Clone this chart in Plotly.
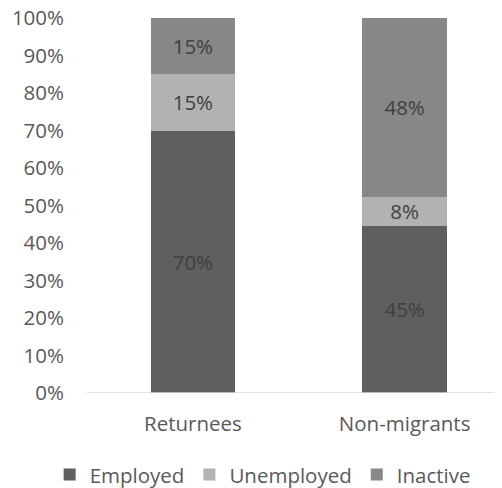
import plotly.graph_objects as go

categories = ["Returnees", "Non-migrants"]
employed = [70.0, 44.6]
unemployed = [15.2, 7.8]
inactive = [14.8, 47.6]
tick_vals = [0, 10, 20, 30, 40, 50, 60, 70, 80, 90, 100]
tick_text = [f"{v}%" for v in tick_vals]

series = [
    ("Employed", employed, "#5f5f5f"),
    ("Unemployed", unemployed, "#b2b2b2"),
    ("Inactive", inactive, "#878787"),
]

FONT = "Open Sans"
FS = 20.5
fig = go.Figure()
for name, vals, color in series:
    fig.add_trace(go.Bar(
        x=categories, y=vals, name=name,
        marker=dict(color=color, line=dict(width=0)),
        width=0.4,
        text=[f"{round(v):.0f}%" for v in vals],
        textposition="inside", insidetextanchor="middle",
        constraintext="none",
        textfont=dict(family=FONT, size=FS, color="#404040"),
        textangle=0,
    ))

fig.update_layout(
    barmode="stack",
    width=494, height=480,
    margin=dict(l=79, r=0, t=10, b=95, autoexpand=False),
    paper_bgcolor="white", plot_bgcolor="white",
    font=dict(family=FONT, size=FS, color="#595959"),
    showlegend=True,
    legend=dict(orientation="h", x=-0.09, xanchor="left", y=-0.218, yanchor="middle",
                traceorder="normal",
                font=dict(family=FONT, size=FS, color="#595959"),
                itemwidth=30, tracegroupgap=0),
    xaxis=dict(range=[-0.5, 1.46], showgrid=False, showline=False, zeroline=False,
               ticks="", ticklabelstandoff=16,
               tickfont=dict(size=FS, color="#595959")),
    yaxis=dict(range=[0, 100], tickvals=tick_vals, ticktext=tick_text,
               showgrid=False, zeroline=False, showline=False, ticks="",
               ticklabelstandoff=22, ticklabeloverflow="allow",
               tickfont=dict(size=FS, color="#595959")),
    shapes=[dict(type="line", xref="paper", yref="y", x0=0, x1=1, y0=0, y1=0,
                 line=dict(color="#d9d9d9", width=1.5))],
)
fig.write_html("out.html")
